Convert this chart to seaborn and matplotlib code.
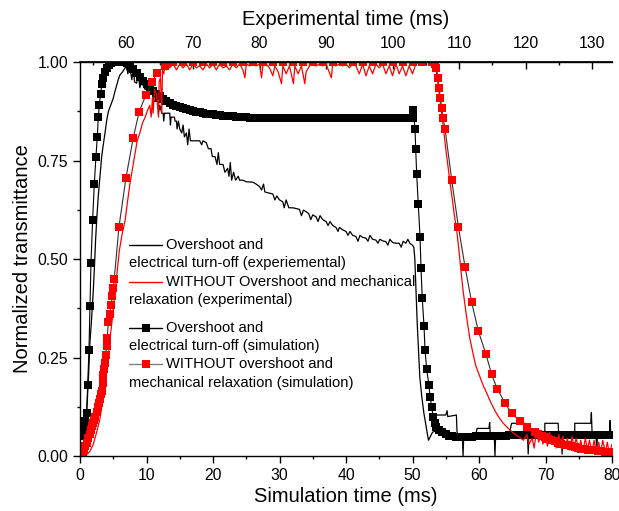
import numpy as np
import pandas as pd
import matplotlib
matplotlib.use("Agg")
import matplotlib.pyplot as plt
import seaborn as sns
from matplotlib.lines import Line2D
from matplotlib.offsetbox import AnchoredOffsetbox, VPacker, HPacker, TextArea, DrawingArea
from matplotlib.ticker import MultipleLocator

# ---------------- data (time in ms, normalized transmittance) ----------------
black_exp = [(0.0,0.0),(0.4,0.02),(0.7,0.05),(0.9,0.09),(1.1,0.14),(1.3,0.21),(1.5,0.29),(1.75,0.35),
    (2.0,0.42),(2.2,0.49),(2.35,0.55),(2.55,0.61),(2.75,0.66),(3.0,0.71),(3.26,0.76),(3.5,0.79),
    (3.76,0.82),(4.0,0.85),(4.26,0.874),(4.6,0.89),(5.0,0.908),(5.25,0.925),(5.5,0.94),(5.75,0.955),
    (6.0,0.967),(6.4,0.975),(6.77,0.985),(7.0,0.99),(7.2,0.97),(7.4,0.99),(7.6,0.975),(7.8,0.955),
    (8.0,0.985),(8.2,0.95),(8.5,0.946),(8.8,0.965),(9.0,0.935),(9.3,0.95),(9.5,0.94),(9.8,0.93),
    (10.0,0.935),(10.3,0.91),(10.5,0.93),(11.0,0.93),(11.0,0.90),(11.3,0.90),(11.3,0.92),(11.5,0.90),
    (11.8,0.90),(11.8,0.87),(12.0,0.89),(12.3,0.87),(12.5,0.87),(12.6,0.85),(12.7,0.87),(13.5,0.87),
    (13.6,0.84),(13.7,0.86),(14.2,0.86),(14.3,0.85),(14.5,0.85),(14.6,0.83),(14.8,0.85),(15.0,0.83),
    (15.3,0.82),(15.5,0.84),(15.7,0.81),(16.0,0.82),(16.2,0.79),(16.4,0.83),(16.6,0.80),(17.0,0.80),
    (17.5,0.80),(18.0,0.80),(18.3,0.79),(18.5,0.80),(19.0,0.795),(19.3,0.78),(19.7,0.78),(19.9,0.76),
    (20.3,0.76),(20.6,0.74),(20.8,0.77),(21.0,0.74),(21.5,0.74),(21.8,0.72),(22.2,0.73),(22.4,0.71),
    (22.6,0.745),(22.8,0.70),(23.1,0.72),(23.4,0.70),(23.8,0.71),(24.0,0.70),(24.5,0.70),(25.0,0.696),
    (26.0,0.695),(26.5,0.69),(27.0,0.684),(27.3,0.675),(27.6,0.69),(27.8,0.67),(28.5,0.667),(29.0,0.665),
    (29.3,0.65),(29.6,0.66),(30.0,0.65),(30.5,0.645),(30.7,0.63),(31.0,0.65),(31.4,0.63),(32.0,0.63),
    (32.5,0.628),(33.0,0.626),(33.3,0.61),(33.6,0.624),(34.0,0.62),(34.4,0.615),(34.7,0.60),(35.0,0.612),
    (35.5,0.607),(35.8,0.595),(36.1,0.61),(36.5,0.60),(37.0,0.595),(37.3,0.585),(37.6,0.595),(38.0,0.585),
    (38.5,0.58),(38.8,0.57),(39.0,0.58),(39.5,0.574),(40.0,0.57),(40.3,0.56),(40.6,0.57),(41.0,0.56),
    (41.5,0.557),(41.8,0.545),(42.1,0.56),(42.5,0.555),(43.0,0.553),(43.3,0.545),(43.6,0.56),(44.0,0.55),
    (44.5,0.548),(44.8,0.54),(45.1,0.55),(45.5,0.546),(46.0,0.544),(46.3,0.535),(46.6,0.55),(47.0,0.542),
    (47.5,0.54),(48.0,0.54),(48.3,0.53),(48.6,0.545),(49.0,0.54),(49.3,0.55),(49.6,0.54),(50.0,0.535),
    (50.2,0.53),(50.35,0.50),(50.5,0.43),(50.7,0.34),(50.9,0.27),(51.1,0.20),(51.4,0.15),(51.7,0.11),
    (52.1,0.07),(52.4,0.04),(52.7,0.05),(53.0,0.06),(53.5,0.065),(53.6,0.104),(55.0,0.104),(55.2,0.115),
    (55.3,0.10),(56.6,0.104),(56.7,0.06),(57.0,0.05),(57.5,0.05),(57.6,0.0),(57.7,0.05),(58.5,0.05),
    (59.5,0.05),(59.7,0.07),(61.5,0.07),(61.6,0.085),(61.7,0.05),(62.3,0.05),(62.4,0.0),(62.5,0.05),
    (63.5,0.055),(64.5,0.05),(64.9,0.083),(66.9,0.083),(67.0,0.05),(67.3,0.05),(67.4,0.005),(67.5,0.05),
    (68.5,0.055),(69.9,0.05),(69.9,0.083),(71.9,0.083),(72.0,0.05),(72.4,0.05),(72.5,0.005),(72.6,0.05),
    (74.4,0.05),(74.4,0.083),(76.8,0.083),(76.9,0.11),(77.0,0.06),(77.6,0.05),(77.7,0.005),(77.8,0.05),
    (79.6,0.05),(79.7,0.09),(79.8,0.06),(80.0,0.06)]

red_exp = [(0.0,0.0),(0.5,0.0),(1.0,0.003),(1.5,0.012),(2.0,0.03),(2.5,0.06),(3.0,0.095),(3.5,0.15),
    (3.8,0.19),(4.0,0.22),(4.3,0.26),(4.6,0.31),(4.8,0.34),(5.0,0.37),(5.3,0.42),(5.6,0.47),(5.9,0.52),
    (6.3,0.56),(6.8,0.60),(7.1,0.64),(7.5,0.69),(7.9,0.73),(8.3,0.77),(8.6,0.80),(9.0,0.82),(9.4,0.845),
    (9.8,0.86),(10.1,0.875),(10.5,0.89),(10.7,0.86),(10.9,0.91),(11.0,0.87),(11.2,0.93),(11.5,0.92),
    (11.8,0.86),(11.9,0.95),(12.1,0.96),(12.3,0.87),(12.4,0.98),(12.6,0.97),(12.8,0.995),(13.0,0.98),
    (13.3,1.0),(13.5,0.985),(14.0,0.995),(14.5,0.98),(15.0,0.995),(15.5,0.985),(16.0,0.995),(16.5,0.98),
    (17.0,0.995),(17.5,0.985),(18.0,0.99),(18.5,0.98),(19.0,0.995),(19.5,0.985),(20.0,0.995),(20.5,0.98),
    (21.0,0.995),(21.5,0.985),(22.0,0.99),(22.5,0.98),(23.0,0.995),(23.5,0.985),(24.0,0.995),(24.5,0.98),
    (24.8,0.96),(25.0,0.995),(25.5,0.99),(26.0,0.995),(26.5,0.99),(27.0,0.995),(27.3,0.96),(27.5,0.99),
    (28.0,0.995),(28.5,0.985),(29.0,0.965),(29.3,0.99),(29.8,0.975),(30.3,0.945),(30.5,0.99),(31.0,0.97),
    (31.5,0.99),(32.1,0.945),(32.3,0.99),(32.8,0.97),(33.3,0.99),(33.8,0.945),(34.0,0.975),(34.5,0.99),
    (35.0,0.995),(35.5,0.99),(36.0,0.995),(36.5,0.99),(37.0,0.995),(37.8,0.96),(38.0,0.995),(38.5,0.99),
    (39.0,0.995),(39.5,0.99),(40.0,0.995),(40.5,0.985),(41.0,0.995),(41.5,0.99),(42.0,0.97),(42.5,0.995),
    (43.0,0.965),(43.5,0.99),(44.0,0.97),(44.5,0.995),(45.0,0.985),(45.5,0.995),(46.0,0.97),(46.5,0.99),
    (47.0,0.965),(47.5,0.995),(48.0,0.97),(48.5,0.99),(49.0,0.965),(49.5,0.99),(50.0,0.97),(50.5,0.995),
    (51.0,1.0),(52.0,1.0),(53.0,1.0),(53.3,1.0),(53.5,0.985),(53.8,0.95),(54.0,0.92),(54.3,0.88),
    (54.6,0.84),(55.0,0.78),(55.3,0.74),(55.6,0.70),(56.0,0.65),(56.3,0.61),(56.6,0.58),(57.0,0.52),
    (57.25,0.476),(57.6,0.42),(57.9,0.383),(58.2,0.345),(58.6,0.30),(59.1,0.26),(59.5,0.23),(60.15,0.20),
    (60.6,0.18),(61.15,0.16),(61.8,0.135),(62.4,0.115),(63.0,0.098),(63.65,0.083),(64.4,0.07),(65.2,0.058),
    (66.0,0.048),(66.7,0.04),(67.2,0.055),(67.5,0.03),(68.0,0.045),(68.3,0.02),(68.6,0.06),(69.0,0.035),
    (69.3,0.065),(69.6,0.03),(70.0,0.05),(70.3,0.025),(70.6,0.06),(71.0,0.03),(71.3,0.05),(71.6,0.02),
    (72.0,0.055),(72.3,0.025),(72.6,0.05),(73.0,0.02),(73.3,0.045),(73.6,0.015),(74.0,0.05),(74.3,0.02),
    (74.6,0.045),(75.0,0.015),(75.3,0.04),(75.6,0.01),(76.0,0.045),(76.3,0.015),(76.6,0.04),(77.0,0.01),
    (77.3,0.04),(77.6,0.01),(78.0,0.035),(78.3,0.005),(78.6,0.04),(79.0,0.01),(79.3,0.035),(79.6,0.005),
    (80.0,0.03)]

black_sim = [(0.0,0.050),(0.2,0.052),(0.35,0.056),(0.5,0.062),(0.65,0.072),(0.8,0.088),(1.0,0.110),
    (1.15,0.180),(1.35,0.270),(1.5,0.380),(1.65,0.490),(1.9,0.600),(2.15,0.690),(2.4,0.760),(2.6,0.810),
    (2.75,0.860),(2.9,0.890),(3.1,0.920),(3.3,0.945),(3.5,0.960),(3.75,0.975),(4.0,0.985),(4.3,0.992),
    (4.6,0.997),(5.0,1.000),(5.5,1.000),(6.0,1.000),(6.5,1.000),(7.0,0.997),(7.5,0.990),(8.0,0.982),
    (8.5,0.972),(9.0,0.962),(9.5,0.952),(10.0,0.943),(10.5,0.935),(11.0,0.927),(11.5,0.920),(12.0,0.913),
    (12.5,0.906),(13.0,0.900),(13.5,0.896),(14.0,0.892),(14.5,0.889),(15.0,0.886),(15.5,0.883),
    (16.0,0.880),(16.5,0.878),(17.0,0.876),(17.5,0.874),(18.0,0.872),(18.5,0.871),(19.0,0.869),
    (19.5,0.868),(20.0,0.867),(20.5,0.866),(21.0,0.865),(21.5,0.864),(22.0,0.863),(22.5,0.862),
    (23.0,0.862),(23.5,0.861),(24.0,0.861),(24.5,0.860),(25.0,0.860),(25.5,0.859),(26.0,0.859),
    (26.5,0.859),(27.0,0.858),(27.5,0.858),(28.0,0.858),(28.5,0.858),(29.0,0.858),(29.5,0.858),
    (30.0,0.858),(30.5,0.858),(31.0,0.858),(31.5,0.858),(32.0,0.858),(32.5,0.858),(33.0,0.858),
    (33.5,0.858),(34.0,0.858),(34.5,0.858),(35.0,0.858),(35.5,0.858),(36.0,0.858),(36.5,0.858),
    (37.0,0.858),(37.5,0.858),(38.0,0.858),(38.5,0.858),(39.0,0.858),(39.5,0.858),(40.0,0.858),
    (40.5,0.858),(41.0,0.858),(41.5,0.858),(42.0,0.858),(42.5,0.858),(43.0,0.858),(43.5,0.858),
    (44.0,0.858),(44.5,0.858),(45.0,0.858),(45.5,0.858),(46.0,0.858),(46.5,0.858),(47.0,0.858),
    (47.5,0.858),(48.0,0.858),(48.5,0.858),(49.0,0.858),(49.5,0.858),(50.0,0.858),(50.11,0.878),
    (50.38,0.830),(50.48,0.780),(50.63,0.715),(50.87,0.640),(51.13,0.556),(51.28,0.477),(51.47,0.400),
    (51.73,0.330),(51.88,0.270),(52.13,0.220),(52.48,0.180),(52.63,0.150),(52.89,0.125),(53.1,0.100),
    (53.35,0.085),(53.6,0.074),(54.0,0.066),(54.5,0.060),(55.0,0.055),(55.5,0.052),(56.0,0.050),
    (56.5,0.049),(57.0,0.048),(57.5,0.048),(58.0,0.048),(58.5,0.049),(59.0,0.049),(59.5,0.050),
    (60.0,0.050),(60.5,0.050),(61.0,0.051),(61.5,0.051),(62.0,0.051),(62.5,0.052),(63.0,0.052),
    (63.5,0.052),(64.0,0.052),(64.5,0.053),(65.0,0.053),(65.5,0.053),(66.0,0.053),(66.5,0.053),
    (67.0,0.053),(67.5,0.053),(68.0,0.053),(68.5,0.053),(69.0,0.053),(69.5,0.053),(70.0,0.053),
    (70.5,0.053),(71.0,0.053),(71.5,0.053),(72.0,0.053),(72.5,0.053),(73.0,0.053),(73.5,0.053),
    (74.0,0.053),(74.5,0.053),(75.0,0.053),(75.5,0.053),(76.0,0.053),(76.5,0.053),(77.0,0.053),
    (77.5,0.053),(78.0,0.053),(78.5,0.053),(79.0,0.053),(79.5,0.053),(80.0,0.053)]

red_sim = [(0.0,0.000),(0.2,0.004),(0.45,0.010),(0.65,0.017),(0.8,0.025),(1.0,0.034),(1.25,0.045),
    (1.45,0.056),(1.6,0.065),(1.8,0.075),(1.95,0.084),(2.1,0.092),(2.25,0.100),(2.5,0.112),(2.7,0.124),
    (2.85,0.134),(3.0,0.145),(3.15,0.157),(3.25,0.165),(3.4,0.185),(3.5,0.205),(3.6,0.220),(3.7,0.235),
    (3.86,0.256),(4.0,0.280),(4.1,0.300),(4.26,0.340),(4.45,0.360),(4.66,0.383),(4.85,0.405),(5.0,0.426),
    (5.15,0.450),(5.85,0.580),(6.9,0.705),(8.0,0.807),(8.9,0.874),(9.9,0.916),(10.9,0.950),(11.6,0.973),
    (12.8,0.990),(14.0,1.0),(15.5,1.0),(17.0,1.0),(18.5,1.0),(20.0,1.0),(21.5,1.0),(23.0,1.0),(24.5,1.0),
    (26.0,1.0),(27.5,1.0),(29.0,1.0),(30.5,1.0),(32.0,1.0),(33.5,1.0),(35.0,1.0),(36.5,1.0),(38.0,1.0),
    (39.5,1.0),(41.0,1.0),(42.5,1.0),(44.0,1.0),(45.5,1.0),(47.0,1.0),(48.5,1.0),(50.0,1.0),(51.5,1.0),
    (53.0,1.0),(53.4,0.995),(53.6,0.984),(53.85,0.959),(54.0,0.933),(54.2,0.908),(54.4,0.882),
    (54.6,0.857),(54.9,0.830),(55.9,0.700),(56.9,0.582),(57.9,0.480),(58.9,0.390),(59.9,0.317),
    (61.05,0.258),(61.9,0.207),(62.75,0.170),(63.9,0.135),(64.9,0.108),(66.1,0.090),(67.2,0.074),
    (68.4,0.062),(68.9,0.057),(69.4,0.052),(69.9,0.048),(70.4,0.044),(70.9,0.040),(71.4,0.037),
    (71.9,0.034),(72.4,0.031),(72.9,0.029),(73.4,0.027),(73.9,0.025),(74.4,0.023),(74.9,0.021),
    (75.4,0.019),(75.9,0.018),(76.4,0.016),(76.9,0.015),(77.4,0.014),(77.9,0.013),(78.4,0.012),
    (78.9,0.011),(79.4,0.010),(79.9,0.009)]

time_offset = 53.0  # experimental time = simulation time + offset
y_ticks = [0.0, 0.25, 0.5, 0.75, 1.0]
y_tick_labels = ["0.00", "0.25", "0.50", "0.75", "1.00"]
x_ticks = [0, 10, 20, 30, 40, 50, 60, 70, 80]
top_ticks = [60, 70, 80, 90, 100, 110, 120, 130]

labels = [
    ("Overshoot and", "electrical turn-off (experiemental)"),
    ("WITHOUT Overshoot and mechanical", "relaxation (experimental)"),
    ("Overshoot and", "electrical turn-off (simulation)"),
    ("WITHOUT overshoot and", "mechanical relaxation (simulation)"),
]

def to_df(pairs):
    return pd.DataFrame(pairs, columns=["t", "v"])

# ---------------- figure ----------------
sns.set_theme(style="ticks")
plt.rcParams["font.family"] = ["Liberation Sans", "DejaVu Sans"]
plt.rcParams["text.color"] = "black"
plt.rcParams["axes.labelcolor"] = "black"
plt.rcParams["xtick.color"] = "black"
plt.rcParams["ytick.color"] = "black"

fig = plt.figure(figsize=(6.19, 5.11), dpi=100)
ax = fig.add_axes([80/619, 1 - 456/511, 532/619, 394/511])

MS = 6.0
sns.lineplot(data=to_df(black_exp), x="t", y="v", estimator=None, sort=False,
             color="black", lw=0.9, ax=ax, zorder=2)
sns.lineplot(data=to_df(black_sim), x="t", y="v", estimator=None, sort=False,
             color="black", lw=0.8, marker="s", markersize=MS, markeredgewidth=0,
             markerfacecolor="black", ax=ax, zorder=3)
sns.lineplot(data=to_df(red_sim), x="t", y="v", estimator=None, sort=False,
             color="#303030", lw=0.8, marker="s", markersize=MS, markeredgewidth=0,
             markerfacecolor="#ff0000", ax=ax, zorder=4)
sns.lineplot(data=to_df(red_exp), x="t", y="v", estimator=None, sort=False,
             color="#ff0000", lw=0.9, ax=ax, zorder=5)

ax.set_xlim(0, 80)
ax.set_ylim(0, 1.0)
ax.set_xticks(x_ticks)
ax.xaxis.set_minor_locator(MultipleLocator(5))
ax.set_yticks(y_ticks)
ax.set_yticklabels(y_tick_labels)
ax.yaxis.set_minor_locator(MultipleLocator(0.125))
ax.tick_params(axis="both", which="major", direction="out", length=5, width=1,
               labelsize=11.3, pad=3.5, top=False, right=False)
ax.tick_params(axis="both", which="minor", direction="out", length=2.5, width=1,
               top=False, right=False)
ax.spines["right"].set_visible(False)
for s in ["left", "bottom", "top"]:
    ax.spines[s].set_color("black")
    ax.spines[s].set_linewidth(1.0)
    ax.spines[s].set_zorder(10)
ax.set_xlabel("Simulation time (ms)", fontsize=14.5, labelpad=3)
ax.set_ylabel("Normalized transmittance", fontsize=14.5, labelpad=4)

sec = ax.secondary_xaxis("top", functions=(lambda x: x + time_offset, lambda x: x - time_offset))
sec.set_xticks(top_ticks)
sec.xaxis.set_minor_locator(MultipleLocator(5))
sec.tick_params(which="major", direction="in", length=5, width=1, labelsize=11.3, pad=8)
sec.tick_params(which="minor", direction="in", length=2.5, width=1)
sec.spines["top"].set_color("black")
sec.set_xlabel("Experimental time (ms)", fontsize=14.5, labelpad=8)

# ---------------- legend (Origin style: second line starts under the symbol) ----------------
FS = 10.6
def handle(line_color, marker_color=None, width=24):
    da = DrawingArea(width, 8, 0, 0)
    da.add_artist(Line2D([0, width], [4, 4], color=line_color, lw=1.0))
    if marker_color is not None:
        da.add_artist(Line2D([width / 2], [4], marker="s", markersize=MS, ls="none",
                             markerfacecolor=marker_color, markeredgewidth=0))
    return da

def entry(h, first, second):
    row = HPacker(children=[h, TextArea(first, textprops=dict(fontsize=FS, color="black"))],
                  sep=3, align="center", pad=0)
    return [row, TextArea(second, textprops=dict(fontsize=FS, color="black"))]

kids = []
kids += entry(handle("black"), *labels[0])
kids += entry(handle("#ff0000"), *labels[1])
kids.append(DrawingArea(1, 3.6, 0, 0))
kids += entry(handle("black", "black"), *labels[2])
kids += entry(handle("#808080", "#ff0000"), *labels[3])
vp = VPacker(children=kids, sep=3.1, align="left", pad=0)
box = AnchoredOffsetbox(loc="upper left", child=vp, pad=0, borderpad=0, frameon=False,
                        bbox_to_anchor=(0.092, 0.553), bbox_transform=ax.transAxes)
ax.add_artist(box)

fig.savefig("out.png", dpi=100)
